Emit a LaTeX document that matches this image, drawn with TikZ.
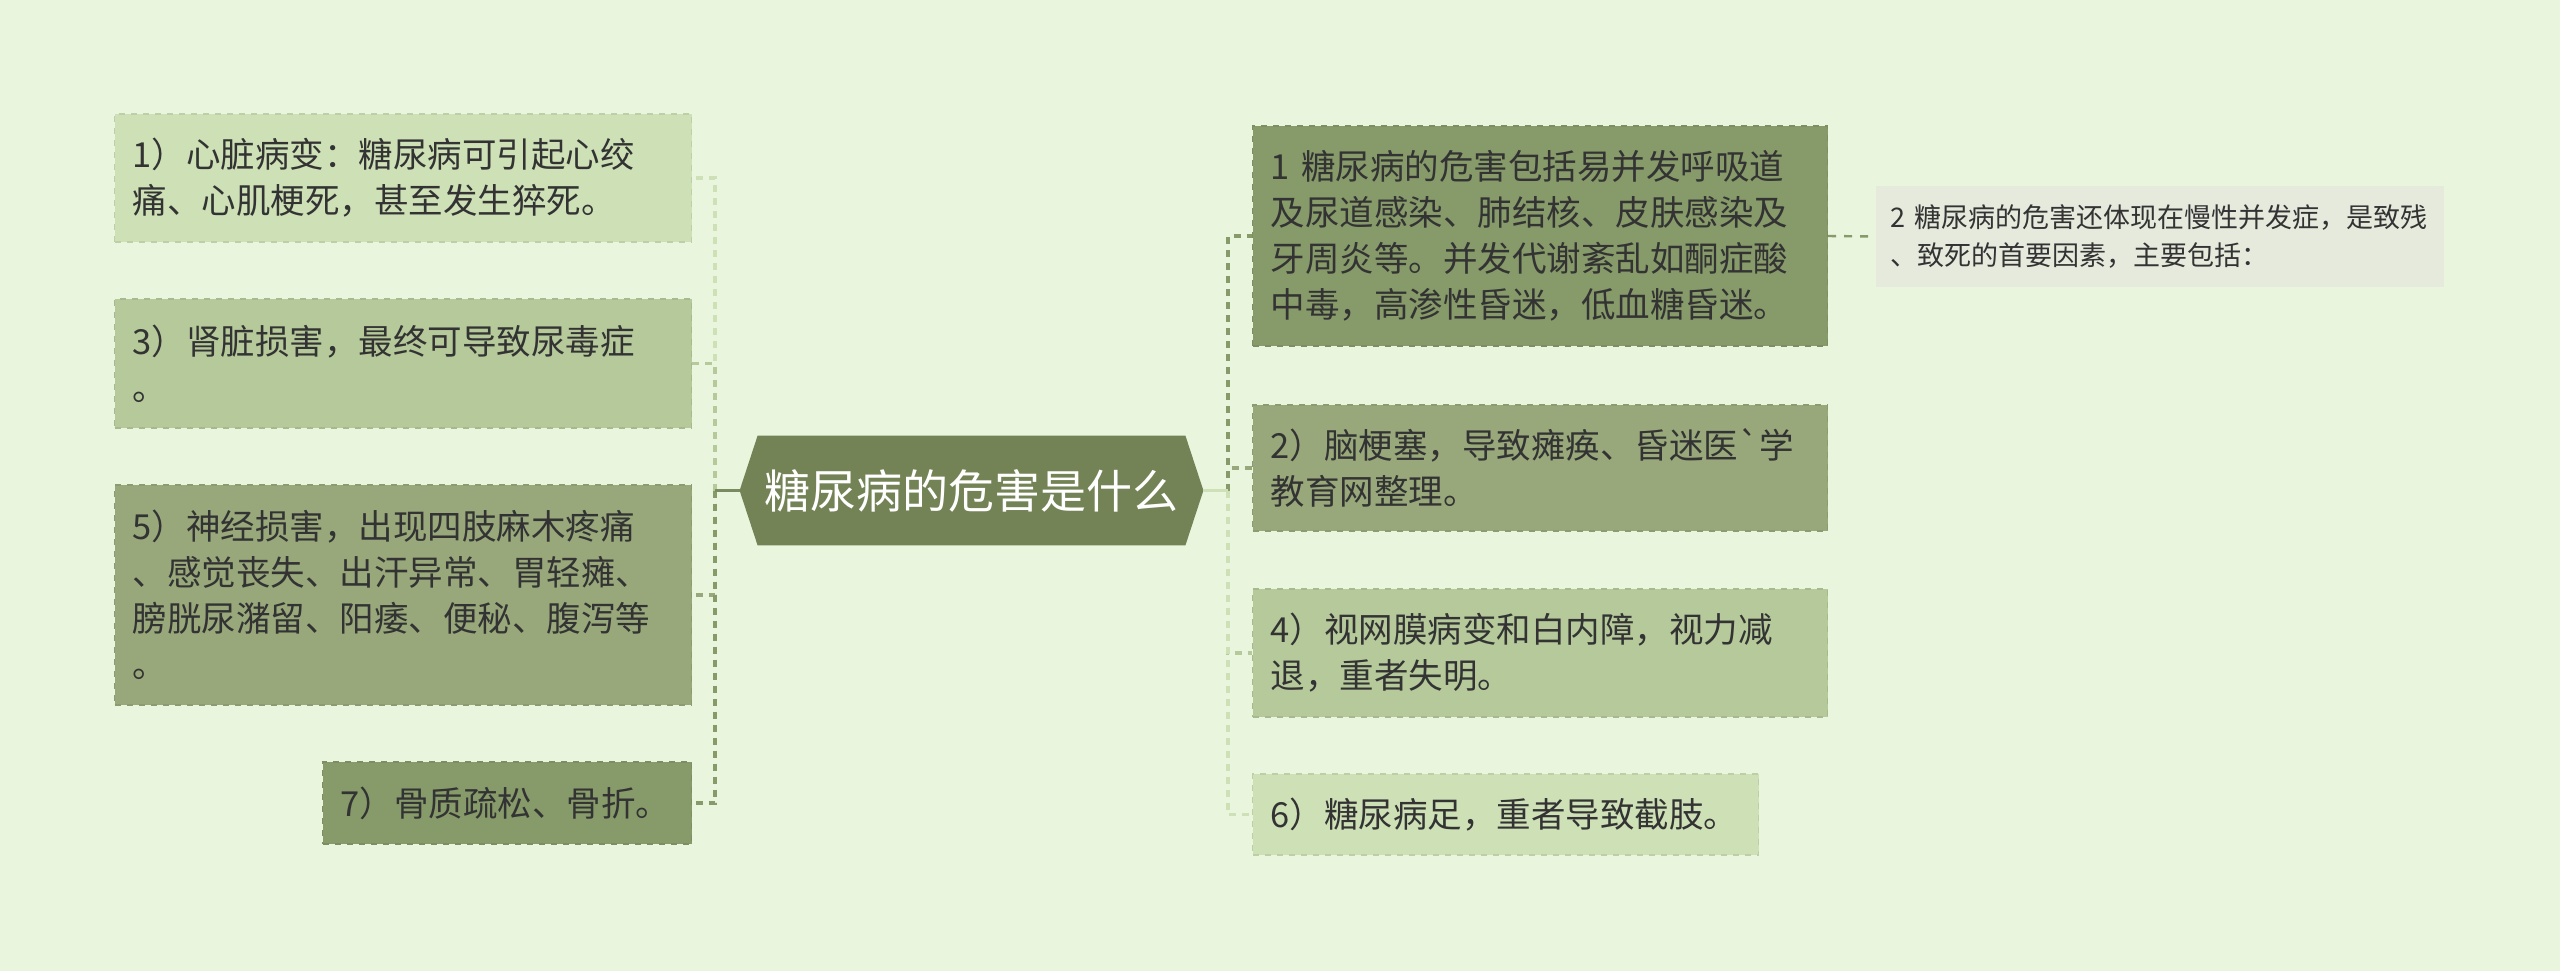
\documentclass[tikz,border=0pt]{standalone}
\usepackage{fontspec}
\setmainfont{Noto Sans CJK SC}[Ligatures=TeXOff]
\usetikzlibrary{backgrounds}

\definecolor{bgc}{HTML}{E9F5DD}
\definecolor{leafa}{HTML}{CEE0B6}
\definecolor{leafb}{HTML}{B5C99A}
\definecolor{leafc}{HTML}{98A87B}
\definecolor{leafd}{HTML}{879A6A}
\definecolor{rootc}{HTML}{738355}
\definecolor{notec}{HTML}{E5EADD}
\definecolor{inkc}{HTML}{333333}

\tikzset{
  leaf/.style={anchor=west, align=left, text=inkc, inner xsep=9pt, inner ysep=0pt,
    font=\fontsize{17.25}{23}\selectfont, dashed, line width=0.6pt},
  note/.style={anchor=west, align=left, text=inkc, inner xsep=7pt, inner ysep=0pt,
    font=\fontsize{13.5}{18.75}\selectfont, fill=notec},
  link/.style={line width=1.6pt, dash pattern=on 3.5pt off 3pt},
  stem/.style={line width=1.6pt},
}

\begin{document}
\begin{tikzpicture}[x=0.5pt,y=-0.5pt]
\useasboundingbox (0,0) rectangle (2560,971);

% centre
\node[minimum width=231.5pt, minimum height=54.5pt, inner sep=0pt, text=white,
  font=\fontsize{23}{28}\selectfont] (root) at (971.5,490.5) {糖尿病的危害是什么};
\begin{scope}[on background layer]
\fill[bgc] (0,0) rectangle (2560,971);
\fill[rootc] (root.west) -- ([xshift=9pt]root.north west) -- ([xshift=-9pt]root.north east)
  -- (root.east) -- ([xshift=-9pt]root.south east) -- ([xshift=9pt]root.south west) -- cycle;
\end{scope}

% left side
\node[leaf, fill=leafa, draw=leafa!92!black, text width=270.5pt, minimum height=64pt] (b1) at (114,178)
  {1）心脏病变：糖尿病可引起心绞\\痛、心肌梗死，甚至发生猝死。};
\node[leaf, fill=leafb, draw=leafb!92!black, text width=270.5pt, minimum height=64.5pt] (b3) at (114,363.5)
  {3）肾脏损害，最终可导致尿毒症\\。};
\node[leaf, fill=leafc, draw=leafc!92!black, text width=270.5pt, minimum height=110pt] (b5) at (114,595)
  {5）神经损害，出现四肢麻木疼痛\\、感觉丧失、出汗异常、胃轻瘫、\\膀胱尿潴留、阳痿、便秘、腹泻等\\。};
\node[leaf, fill=leafd, draw=leafd!92!black, text width=166.5pt, minimum height=41pt] (b7) at (322,803)
  {7）骨质疏松、骨折。};

% right side
\node[leaf, fill=leafd, draw=leafd!92!black, text width=269.5pt, minimum height=110pt] (r1) at (1252,236)
  {1 糖尿病的危害包括易并发呼吸道\\及尿道感染、肺结核、皮肤感染及\\牙周炎等。并发代谢紊乱如酮症酸\\中毒，高渗性昏迷，低血糖昏迷。};
\node[leaf, fill=leafc, draw=leafc!92!black, text width=269.5pt, minimum height=63pt] (r2) at (1252,468)
  {2）脑梗塞，导致瘫痪、昏迷医`学\\教育网整理。};
\node[leaf, fill=leafb, draw=leafb!92!black, text width=269.5pt, minimum height=64pt] (r4) at (1252,653)
  {4）视网膜病变和白内障，视力减\\退，重者失明。};
\node[leaf, fill=leafa, draw=leafa!92!black, text width=235pt, minimum height=40.5pt] (r6) at (1252,814.5)
  {6）糖尿病足，重者导致截肢。};
\node[note, text width=270pt, minimum height=50.5pt] (sub) at (1876,236.5)
  {2 糖尿病的危害还体现在慢性并发症，是致残\\、致死的首要因素，主要包括：};

% connectors
\coordinate (lj) at (715,490.5);
\coordinate (rj) at (1228,490.5);
\draw[link, leafa] (lj) |- (b1.east);
\draw[link, leafb] (lj) |- (b3.east);
\draw[link, leafc] (lj) |- (b5.east);
\draw[link, leafd] (lj) |- (b7.east);
\draw[stem, leafd!90!black] (root.west) -- (lj);
\draw[link, leafc] (rj) |- (r2.west);
\draw[link, leafd] (rj) |- (r1.west);
\draw[link, leafb] (rj) |- (r4.west);
\draw[link, leafa] (rj) |- (r6.west);
\draw[stem, leafa] (root.east) -- (rj);
\draw[leafd, line width=1.2pt, dash pattern=on 4pt off 4pt] (r1.east) -- (sub.west);
\end{tikzpicture}
\end{document}
